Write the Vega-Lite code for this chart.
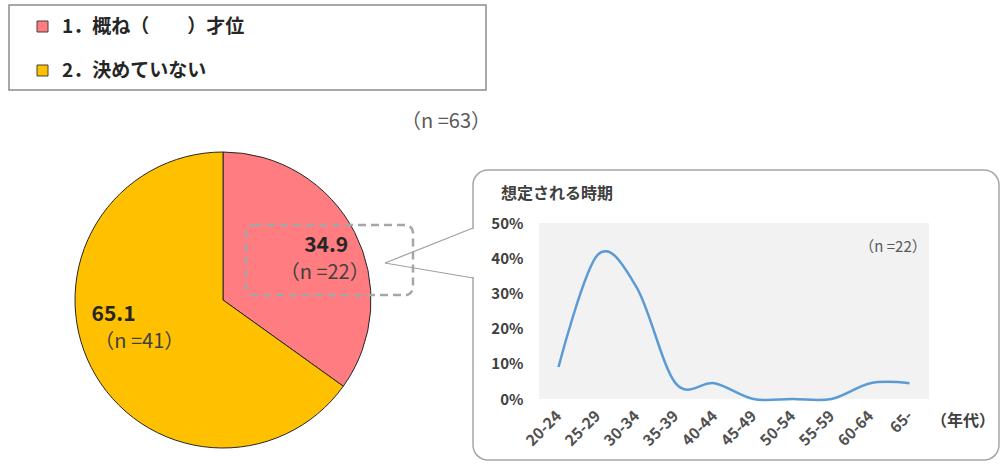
{
  "$schema": "https://vega.github.io/schema/vega-lite/v6.json",
  "background": "white",
  "padding": {"left": 8, "top": 4, "right": 1, "bottom": 3},
  "config": {
    "font": "Noto Sans CJK JP",
    "view": {"stroke": null},
    "axis": {"labelOverlap": false, "labelFlush": false, "ticks": false, "tickSize": 0, "domain": false, "grid": false, "title": null, "labelFontWeight": "bold"},
    "axisX": {"labelAngle": -45, "labelAlign": "right", "labelBaseline": "middle", "labelFontSize": 15.5, "labelColor": "#505050", "labelPadding": 14},
    "axisY": {"labelFontSize": 15, "labelColor": "#404040", "labelPadding": 16}
  },
  "bounds": "flush",
  "spacing": 102,
  "hconcat": [
    {
      "width": 428,
      "height": 154,
      "data": {"values": [
        {"cat": "1．概ね（　　）才位", "pct": 34.9, "n": 22},
        {"cat": "2．決めていない", "pct": 65.1, "n": 41}
      ]},
      "transform": [{"calculate": "'（n =' + datum.n + '）'", "as": "nlab"}],
      "layer": [
        {
          "data": {"values": [{}]},
          "mark": {"type": "rect", "filled": false, "stroke": "#8c8c8c", "strokeWidth": 1.5},
          "encoding": {
            "x": {"datum": -1.44595, "type": "quantitative", "scale": {"domain": [-1.44595, 1.44595], "nice": false, "zero": false}, "axis": null},
            "x2": {"datum": 1.777},
            "y": {"datum": 1.9932, "type": "quantitative", "scale": {"domain": [-0.52027, 0.52027], "nice": false, "zero": false}, "axis": null},
            "y2": {"datum": 1.4189}
          }
        },
        {
          "data": {"values": [{}]},
          "mark": {"type": "rect", "fill": "white", "stroke": "#a6a6a6", "strokeWidth": 1.5, "cornerRadius": 15},
          "encoding": {
            "x": {"datum": 1.6892, "type": "quantitative", "scale": {"domain": [-1.44595, 1.44595], "nice": false, "zero": false}, "axis": null},
            "x2": {"datum": 5.2432},
            "y": {"datum": 0.8784, "type": "quantitative", "scale": {"domain": [-0.52027, 0.52027], "nice": false, "zero": false}, "axis": null},
            "y2": {"datum": -1.0811}
          }
        },
        {
          "mark": {"type": "arc", "outerRadius": 148, "stroke": "#262626", "strokeWidth": 1},
          "encoding": {
            "theta": {"field": "pct", "type": "quantitative", "stack": true},
            "color": {
              "field": "cat", "type": "nominal",
              "scale": {"domain": ["1．概ね（　　）才位", "2．決めていない"], "range": ["#FF7C80", "#FFC000"]},
              "legend": {
                "title": null, "orient": "none", "legendX": 24, "legendY": -206,
                "symbolType": "square", "symbolSize": 121, "symbolStrokeColor": "#404040", "symbolStrokeWidth": 1, "symbolOpacity": 1,
                "labelFontSize": 19, "labelFontWeight": "bold", "labelColor": "#262626", "labelOffset": 10, "labelLimit": 400,
                "rowPadding": 24, "padding": 0
              }
            }
          }
        },
        {
          "data": {"values": [{}]},
          "mark": {"type": "rect", "filled": false, "stroke": "#a6a6a6", "strokeWidth": 2.5, "strokeDash": [8, 5], "cornerRadius": 8},
          "encoding": {
            "x": {"datum": 0.1554, "type": "quantitative", "scale": {"domain": [-1.44595, 1.44595], "nice": false, "zero": false}, "axis": null},
            "x2": {"datum": 1.2838},
            "y": {"datum": 0.5068, "type": "quantitative", "scale": {"domain": [-0.52027, 0.52027], "nice": false, "zero": false}, "axis": null},
            "y2": {"datum": 0.0338}
          }
        },
        {
          "mark": {"type": "text", "radius": 116, "fontSize": 21, "fontWeight": "bold", "color": "#262626", "dy": -1},
          "encoding": {
            "theta": {"field": "pct", "type": "quantitative", "stack": true},
            "text": {"condition": {"test": "datum.n === 22", "field": "pct", "type": "quantitative", "format": ".1f"}, "value": ""}
          }
        },
        {
          "mark": {"type": "text", "radius": 116, "fontSize": 20, "color": "#404040", "dx": -1.5, "dy": 26},
          "encoding": {
            "theta": {"field": "pct", "type": "quantitative", "stack": true},
            "text": {"condition": {"test": "datum.n === 22", "field": "nlab", "type": "nominal"}, "value": ""}
          }
        },
        {
          "mark": {"type": "text", "radius": 120, "fontSize": 21, "fontWeight": "bold", "color": "#262626", "dx": -2.7, "dy": -40},
          "encoding": {
            "theta": {"field": "pct", "type": "quantitative", "stack": true},
            "text": {"condition": {"test": "datum.n === 41", "field": "pct", "type": "quantitative", "format": ".1f"}, "value": ""}
          }
        },
        {
          "mark": {"type": "text", "radius": 120, "fontSize": 20, "color": "#404040", "dx": 23, "dy": -13},
          "encoding": {
            "theta": {"field": "pct", "type": "quantitative", "stack": true},
            "text": {"condition": {"test": "datum.n === 41", "field": "nlab", "type": "nominal"}, "value": ""}
          }
        },
        {
          "data": {"values": [{}]},
          "mark": {"type": "rule", "stroke": "white", "strokeWidth": 3},
          "encoding": {
            "x": {"datum": 1.6892, "type": "quantitative", "scale": {"domain": [-1.44595, 1.44595], "nice": false, "zero": false}, "axis": null},
            "y": {"datum": 0.4797, "type": "quantitative", "scale": {"domain": [-0.52027, 0.52027], "nice": false, "zero": false}, "axis": null},
            "y2": {"datum": 0.1554}
          }
        },
        {
          "data": {"values": [{}]},
          "mark": {"type": "rule", "stroke": "#a0a0a0", "strokeWidth": 1.2},
          "encoding": {
            "x": {"datum": 1.6892, "type": "quantitative", "scale": {"domain": [-1.44595, 1.44595], "nice": false, "zero": false}, "axis": null},
            "x2": {"datum": 1.0946},
            "y": {"datum": 0.4865, "type": "quantitative", "scale": {"domain": [-0.52027, 0.52027], "nice": false, "zero": false}, "axis": null},
            "y2": {"datum": 0.25}
          }
        },
        {
          "data": {"values": [{}]},
          "mark": {"type": "rule", "stroke": "#a0a0a0", "strokeWidth": 1.2},
          "encoding": {
            "x": {"datum": 1.0946, "type": "quantitative", "scale": {"domain": [-1.44595, 1.44595], "nice": false, "zero": false}, "axis": null},
            "x2": {"datum": 1.6892},
            "y": {"datum": 0.25, "type": "quantitative", "scale": {"domain": [-0.52027, 0.52027], "nice": false, "zero": false}, "axis": null},
            "y2": {"datum": 0.1486}
          }
        },
        {
          "data": {"values": [{}]},
          "mark": {"type": "text", "fontSize": 20, "color": "#595959"},
          "encoding": {
            "x": {"datum": 1.5068, "type": "quantitative", "scale": {"domain": [-1.44595, 1.44595], "nice": false, "zero": false}, "axis": null},
            "y": {"datum": 1.2027, "type": "quantitative", "scale": {"domain": [-0.52027, 0.52027], "nice": false, "zero": false}, "axis": null},
            "text": {"value": "（n =63）"}
          }
        }
      ]
    },
    {
      "width": 390,
      "height": 176,
      "view": {"fill": "#F2F2F2", "stroke": null},
      "data": {"values": [
        {"age": "20-24", "pct": 0.091},
        {"age": "25-29", "pct": 0.409},
        {"age": "30-34", "pct": 0.318},
        {"age": "35-39", "pct": 0.045},
        {"age": "40-44", "pct": 0.045},
        {"age": "45-49", "pct": 0},
        {"age": "50-54", "pct": 0},
        {"age": "55-59", "pct": 0},
        {"age": "60-64", "pct": 0.045},
        {"age": "65-", "pct": 0.045}
      ]},
      "layer": [
        {
          "mark": {"type": "line", "interpolate": "cardinal", "color": "#5B9BD5", "strokeWidth": 2.5},
          "encoding": {
            "x": {
              "field": "age", "type": "ordinal",
              "scale": {"type": "point", "padding": 0.5, "domain": ["20-24", "25-29", "30-34", "35-39", "40-44", "45-49", "50-54", "55-59", "60-64", "65-"]}
            },
            "y": {
              "field": "pct", "type": "quantitative",
              "scale": {"domain": [0, 0.5], "nice": false, "zero": false},
              "axis": {"values": [0, 0.1, 0.2, 0.3, 0.4, 0.5], "format": ".0%"}
            }
          }
        },
        {
          "data": {"values": [{}]},
          "mark": {"type": "text", "fontSize": 15, "color": "#595959", "dx": 22.5},
          "encoding": {
            "x": {"datum": "60-64", "type": "ordinal", "scale": {"type": "point", "padding": 0.5, "domain": ["20-24", "25-29", "30-34", "35-39", "40-44", "45-49", "50-54", "55-59", "60-64", "65-"]}},
            "y": {"datum": 0.4318, "type": "quantitative", "scale": {"domain": [0, 0.5], "nice": false, "zero": false}, "axis": {"values": [0, 0.1, 0.2, 0.3, 0.4, 0.5], "format": ".0%"}},
            "text": {"value": "（n =22）"}
          }
        },
        {
          "data": {"values": [{}]},
          "mark": {"type": "text", "fontSize": 16, "fontWeight": "bold", "color": "#404040", "dx": 53.5},
          "encoding": {
            "x": {"datum": "65-", "type": "ordinal", "scale": {"type": "point", "padding": 0.5, "domain": ["20-24", "25-29", "30-34", "35-39", "40-44", "45-49", "50-54", "55-59", "60-64", "65-"]}},
            "y": {"datum": -0.0625, "type": "quantitative", "scale": {"domain": [0, 0.5], "nice": false, "zero": false}, "axis": {"values": [0, 0.1, 0.2, 0.3, 0.4, 0.5], "format": ".0%"}},
            "text": {"value": "（年代）"}
          }
        },
        {
          "data": {"values": [{}]},
          "mark": {"type": "text", "fontSize": 16, "fontWeight": "bold", "color": "#404040", "align": "left", "dx": -57.5},
          "encoding": {
            "x": {"datum": "20-24", "type": "ordinal", "scale": {"type": "point", "padding": 0.5, "domain": ["20-24", "25-29", "30-34", "35-39", "40-44", "45-49", "50-54", "55-59", "60-64", "65-"]}},
            "y": {"datum": 0.5824, "type": "quantitative", "scale": {"domain": [0, 0.5], "nice": false, "zero": false}, "axis": {"values": [0, 0.1, 0.2, 0.3, 0.4, 0.5], "format": ".0%"}},
            "text": {"value": "想定される時期"}
          }
        }
      ]
    }
  ]
}
